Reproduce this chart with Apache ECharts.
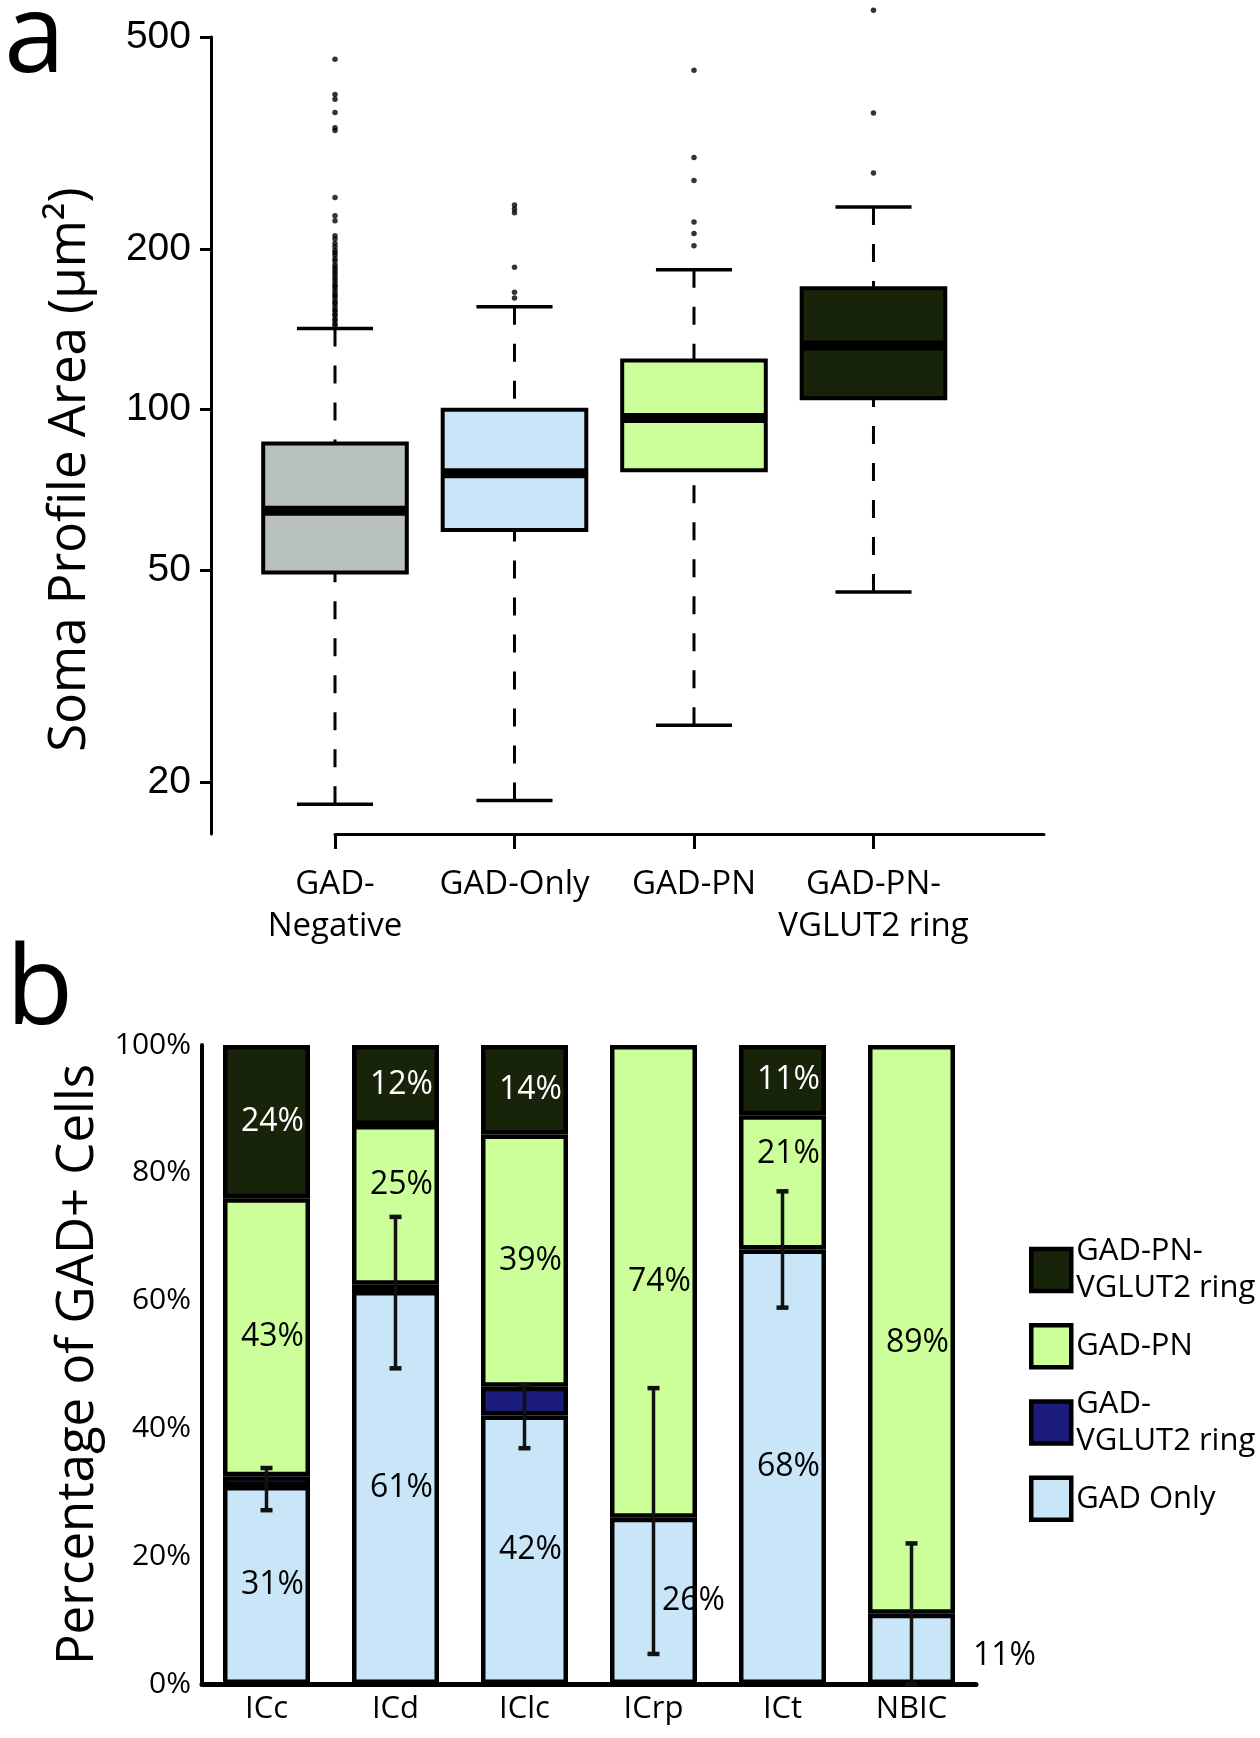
<!DOCTYPE html>
<html>
<head>
<meta charset="utf-8">
<title>Soma size and GAD+ cell types</title>
<script src="https://cdn.jsdelivr.net/npm/echarts@6/dist/echarts.min.js"></script>
<style>
  html, body { margin: 0; padding: 0; background: #fff; }
  #chart { width: 1260px; height: 1738px; }
</style>
</head>
<body>
<div id="chart"></div>
<script>
// ---- panel a: soma profile area, box plots on a log axis ----
const boxCategories = ['GAD-\nNegative', 'GAD-Only', 'GAD-PN', 'GAD-PN-\nVGLUT2 ring']
const boxColors = ['#b8c1be', '#c8e6f8', '#ccff99', '#17240a']
// [lower whisker, Q1, median, Q3, upper whisker]
const boxNegative = [18.2, 49.5, 64.6, 86.4, 142]
const boxOnly = [18.5, 59.5, 76, 100, 156]
const boxPN = [25.6, 77, 96.5, 123.7, 183]
const boxPNRing = [45.5, 105, 132, 169, 240]
const outliersNegative = [144, 145, 147, 148, 150, 151, 153, 154, 156, 158, 159, 161, 163, 164, 166,
  168, 170, 171, 173, 175, 177, 179, 181, 183, 185, 187, 190, 192, 195, 197, 199, 202, 205, 209, 212,
  226, 231, 250, 334, 338, 361, 382, 390, 454]
const outliersOnly = [162, 166, 185, 234, 238, 242]
const outliersPN = [203, 214, 225, 269, 297, 433]
const outliersPNRing = [278, 360, 561]
const sizeTicks = [20, 50, 100, 200, 500]

// ---- panel b: percentage of GAD+ cells per subdivision ----
const regions = ['ICc', 'ICd', 'IClc', 'ICrp', 'ICt', 'NBIC']
const gadOnly = [31, 61.5, 42, 26, 68, 11]
const gadRing = [1.5, 1, 4.5, 0, 0, 0]
const gadPN = [43.5, 25, 39.5, 74, 21, 89]
const gadPNRing = [24, 12.5, 14, 0, 11, 0]
const errLow = [27.2, 49.4, 36.9, 4.7, 58.9, 0]
const errHigh = [33.8, 73.1, 46.8, 46.3, 77.1, 22]
const labelsOnly = ['31%', '61%', '42%', '26%', '68%', '11%']
const labelsPN = ['43%', '25%', '39%', '74%', '21%', '89%']
const labelsPNRing = ['24%', '12%', '14%', '', '11%', '']

const FONT = '"Open Sans", "Noto Sans", sans-serif'
const chart = echarts.init(document.getElementById('chart'))

// box plot drawn with a custom series: dashed whiskers, solid caps, thick median
function renderBox(params, api) {
  const pos = api.value(0)
  const lo = api.coord([pos, api.value(1)])
  const q1 = api.coord([pos, api.value(2)])
  const med = api.coord([pos, api.value(3)])
  const q3 = api.coord([pos, api.value(4)])
  const hi = api.coord([pos, api.value(5)])
  const half = api.size([0.8, 0])[0] / 2
  const cap = half * 0.53
  const x = lo[0]
  const dash = { stroke: '#000', lineWidth: 3, lineDash: [18, 19] }
  const solid = { stroke: '#000', lineWidth: 3.5 }
  return {
    type: 'group',
    children: [
      { type: 'line', shape: { x1: x, y1: hi[1], x2: x, y2: q3[1] }, style: dash },
      { type: 'line', shape: { x1: x, y1: lo[1], x2: x, y2: q1[1] }, style: dash },
      { type: 'line', shape: { x1: x - cap, y1: hi[1], x2: x + cap, y2: hi[1] }, style: solid },
      { type: 'line', shape: { x1: x - cap, y1: lo[1], x2: x + cap, y2: lo[1] }, style: solid },
      {
        type: 'rect',
        shape: { x: x - half, y: q3[1], width: half * 2, height: q1[1] - q3[1] },
        style: { fill: boxColors[params.dataIndex], stroke: '#000', lineWidth: 4 }
      },
      { type: 'line', shape: { x1: x - half, y1: med[1], x2: x + half, y2: med[1] }, style: { stroke: '#000', lineWidth: 10 } }
    ]
  }
}

function renderErr(params, api) {
  const top = api.coord([api.value(0), api.value(2)])
  const bot = api.coord([api.value(0), api.value(1)])
  const w = 6
  const cap = { stroke: '#111', lineWidth: 4.5 }
  return {
    type: 'group',
    children: [
      { type: 'line', shape: { x1: top[0], y1: top[1], x2: bot[0], y2: bot[1] }, style: { stroke: '#111', lineWidth: 3.5 } },
      { type: 'line', shape: { x1: top[0] - w, y1: top[1], x2: top[0] + w, y2: top[1] }, style: cap },
      { type: 'line', shape: { x1: bot[0] - w, y1: bot[1], x2: bot[0] + w, y2: bot[1] }, style: cap }
    ]
  }
}

// label nudges, same as in the original figure
const nudgePN = { 1: [6, -20], 4: [6, -28], 5: [6, 14] }
const nudgeOnly = { 3: [40, 0], 5: [93, 7] }

function segment(values, labels, nudges, color) {
  return values.map((v, i) => {
    if (!v) return '-'
    const item = { value: v }
    if (labels) {
      item.label = { show: labels[i] !== '', formatter: labels[i], offset: (nudges && nudges[i]) || [6, 0], color: color }
    }
    return item
  })
}

const barBase = {
  type: 'bar',
  xAxisIndex: 1,
  yAxisIndex: 1,
  stack: 'total',
  barWidth: 87,
  itemStyle: { borderColor: '#000', borderWidth: 4.5 },
  label: { position: 'inside', fontFamily: FONT, fontSize: 32 }
}

const legendNames = {
  'GAD-PN-VGLUT2 ring': 'GAD-PN-\nVGLUT2 ring',
  'GAD-PN': 'GAD-PN',
  'GAD-VGLUT2 ring': 'GAD-\nVGLUT2 ring',
  'GAD Only': 'GAD Only'
}

const option = {
  backgroundColor: '#fff',
  animation: false,
  textStyle: { fontFamily: FONT, color: '#000' },
  graphic: [
    { type: 'text', left: 4, top: -14, style: { text: 'a', font: '110px ' + FONT, fill: '#000' } },
    { type: 'text', left: 6, top: 938, style: { text: 'b', font: '110px ' + FONT, fill: '#000' } }
  ],
  grid: [
    { left: 335, right: 216, top: 37, bottom: 904, outerBoundsMode: 'none' },
    { left: 202, right: 284, top: 1045, bottom: 54, outerBoundsMode: 'none' }
  ],
  xAxis: [
    {
      type: 'value',
      gridIndex: 0,
      min: 1,
      max: 4.95,
      splitLine: { show: false },
      axisLine: { show: true, onZero: false, lineStyle: { color: '#000', width: 3 } },
      axisTick: { show: true, length: 15, lineStyle: { color: '#000', width: 3 }, customValues: [1, 2, 3, 4] },
      axisLabel: {
        customValues: [1, 2, 3, 4],
        formatter: v => boxCategories[Math.round(v) - 1],
        margin: 30,
        fontSize: 33,
        lineHeight: 42,
        color: '#000',
        fontFamily: FONT
      }
    },
    {
      type: 'category',
      gridIndex: 1,
      data: regions,
      axisLine: { show: true, lineStyle: { color: '#000', width: 5 } },
      axisTick: { show: false },
      axisLabel: { margin: 10, fontSize: 31, color: '#000', fontFamily: FONT }
    }
  ],
  yAxis: [
    {
      type: 'log',
      gridIndex: 0,
      logBase: 10,
      min: 16,
      max: 500,
      offset: 124,
      splitLine: { show: false },
      axisLine: { show: true, onZero: false, lineStyle: { color: '#000', width: 3 } },
      axisTick: { show: true, length: 11, lineStyle: { color: '#000', width: 3 }, customValues: sizeTicks },
      axisLabel: { customValues: sizeTicks, margin: 20, fontSize: 39, color: '#000', fontFamily: '"Liberation Sans", Arial, sans-serif' },
      name: 'Soma Profile Area (μm²)',
      nameLocation: 'middle',
      nameGap: 115,
      nameTextStyle: { fontSize: 51, color: '#000', fontFamily: FONT, padding: [0, 68, 0, 0] }
    },
    {
      type: 'value',
      gridIndex: 1,
      min: 0,
      max: 100,
      interval: 20,
      splitLine: { show: false },
      axisLine: { show: true, lineStyle: { color: '#000', width: 4 } },
      axisTick: { show: false },
      axisLabel: { formatter: '{value}%', margin: 11, fontSize: 30, color: '#000', fontFamily: FONT },
      name: 'Percentage of GAD+ Cells',
      nameLocation: 'middle',
      nameGap: 94,
      nameTextStyle: { fontSize: 51, color: '#000', fontFamily: FONT }
    }
  ],
  legend: {
    orient: 'vertical',
    left: 1024,
    top: 1228,
    itemWidth: 40,
    itemHeight: 42,
    itemGap: 16,
    icon: 'rect',
    selectedMode: false,
    itemStyle: { borderColor: '#000', borderWidth: 4.5 },
    data: ['GAD-PN-VGLUT2 ring', 'GAD-PN', 'GAD-VGLUT2 ring', 'GAD Only'],
    formatter: name => legendNames[name],
    textStyle: { fontSize: 31, lineHeight: 37, color: '#000', fontFamily: FONT }
  },
  series: [
    {
      type: 'custom',
      name: 'soma boxes',
      xAxisIndex: 0,
      yAxisIndex: 0,
      renderItem: renderBox,
      encode: { x: 0, y: [1, 2, 3, 4, 5] },
      data: [boxNegative, boxOnly, boxPN, boxPNRing].map((s, i) => [i + 1].concat(s)),
      z: 2
    },
    {
      type: 'scatter',
      name: 'outliers',
      xAxisIndex: 0,
      yAxisIndex: 0,
      symbol: 'circle',
      symbolSize: 5.5,
      clip: false,
      itemStyle: { color: '#000' },
      data: [].concat(
        outliersNegative.map(v => [1, v]),
        outliersOnly.map(v => [2, v]),
        outliersPN.map(v => [3, v]),
        outliersPNRing.map(v => [4, v])
      ),
      z: 3
    },
    Object.assign({}, barBase, {
      name: 'GAD Only',
      color: '#c8e6f8',
      data: segment(gadOnly, labelsOnly, nudgeOnly, '#000')
    }),
    Object.assign({}, barBase, {
      name: 'GAD-VGLUT2 ring',
      color: '#1c1c7c',
      data: segment(gadRing, null, null, '#fff')
    }),
    Object.assign({}, barBase, {
      name: 'GAD-PN',
      color: '#ccff99',
      data: segment(gadPN, labelsPN, nudgePN, '#000')
    }),
    Object.assign({}, barBase, {
      name: 'GAD-PN-VGLUT2 ring',
      color: '#17240a',
      data: segment(gadPNRing, labelsPNRing, null, '#fff')
    }),
    {
      type: 'custom',
      name: 'error bars',
      xAxisIndex: 1,
      yAxisIndex: 1,
      renderItem: renderErr,
      encode: { x: 0, y: [1, 2] },
      data: regions.map((r, i) => [i, errLow[i], errHigh[i]]),
      z: 5
    }
  ]
}

chart.setOption(option)
</script>
</body>
</html>
